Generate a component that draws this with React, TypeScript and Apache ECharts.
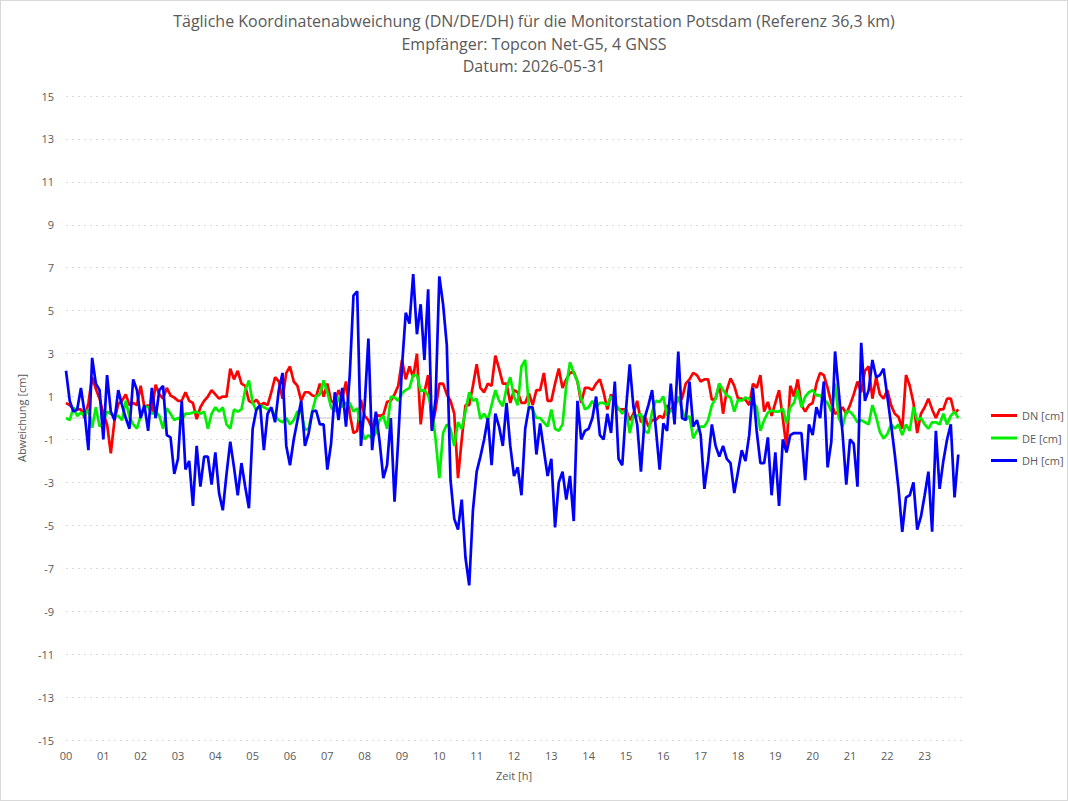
import React, { useEffect, useRef } from "react";
import * as echarts from "echarts";

// time step of the readings: 0.1 h, starting at 00:00
const STEP_H = 0.1;

const xTickLabels = ["00","01","02","03","04","05","06","07","08","09","10","11","12","13","14","15","16","17","18","19","20","21","22","23"];

const dn = [
  0.7,0.6,0.4,0.4,0.4,0.0,0.7,1.9,1.35,0.9,
  0.2,-0.3,-1.65,-0.1,0.65,0.8,1.1,0.6,0.7,0.6,
  1.5,0.5,0.6,0.3,1.55,1.1,0.9,1.4,1.05,0.95,
  0.8,0.8,1.2,0.8,0.7,-0.05,0.5,0.8,1.0,1.3,
  1.1,0.9,1.0,1.0,2.3,1.8,2.2,1.6,1.5,0.8,
  0.7,0.85,0.6,0.7,0.6,1.2,1.9,1.7,0.9,2.1,
  2.4,1.7,1.5,0.8,1.2,1.2,1.05,1.0,1.6,1.0,
  1.6,0.8,0.7,1.3,0.9,1.7,0.2,-0.7,-0.6,0.85,
  0.1,-0.1,-0.5,0.15,0.1,0.15,0.75,0.8,1.1,1.5,
  2.7,1.8,2.4,1.9,3.0,-0.3,1.2,2.0,-0.5,0.4,
  1.6,1.6,1.1,0.8,0.2,-2.8,-1.0,0.6,0.6,1.5,
  2.5,1.4,1.2,1.6,1.5,2.9,2.3,1.6,1.6,0.7,
  1.3,1.2,0.7,0.7,1.15,0.6,1.3,1.3,2.1,0.8,
  0.8,1.6,2.3,1.4,1.8,2.1,2.15,1.7,0.7,1.4,
  1.4,1.3,1.6,1.8,1.2,0.4,1.1,0.7,0.4,0.4,
  0.4,-0.1,0.2,0.8,-0.2,0.1,-0.4,-0.1,-0.1,0.1,
  0.0,0.6,0.3,0.7,0.8,0.9,1.6,1.8,2.1,2.0,
  1.7,1.8,1.8,0.85,0.9,1.6,0.2,1.3,1.85,1.5,
  0.9,0.9,0.85,0.6,1.6,1.4,2.0,0.3,0.75,0.1,
  0.7,1.3,0.0,-1.4,1.5,1.0,1.8,0.6,0.3,0.6,
  0.7,1.6,2.1,2.0,1.4,0.7,0.2,0.3,0.5,0.2,
  0.6,1.1,1.7,1.2,2.2,2.4,0.9,1.9,1.1,0.9,
  1.3,0.6,0.2,0.05,-0.5,2.0,1.5,0.7,-0.7,0.2,
  0.5,0.9,0.4,0.0,0.4,0.4,0.9,0.9,0.2,0.4
];

const de = [
  0.0,-0.1,0.5,0.1,0.25,0.1,0.4,-0.45,0.5,-0.4,
  -0.2,0.3,0.2,0.1,0.1,-0.1,0.8,0.05,-0.3,-0.5,
  0.1,0.55,0.5,0.2,0.3,0.1,-0.5,0.45,0.2,-0.1,
  0.0,-0.1,0.2,0.2,0.25,0.3,0.2,0.3,-0.5,0.2,
  0.5,0.3,0.5,-0.3,-0.5,0.4,0.3,0.4,1.3,1.75,
  0.7,0.35,0.6,0.5,0.4,0.45,0.1,-0.1,-0.2,0.0,
  -0.3,-0.1,0.3,0.3,-0.55,-0.5,0.35,1.0,1.1,1.75,
  1.2,0.5,0.3,1.0,0.5,0.7,0.7,0.3,0.45,-0.45,
  -1.0,-0.8,-0.95,-0.7,-0.1,0.1,-0.5,1.0,0.95,0.8,
  1.15,1.3,1.4,2.0,2.0,1.25,1.3,1.05,0.45,-1.0,
  -2.8,-0.7,-0.3,-0.5,-1.3,-0.2,-0.5,0.3,1.2,0.8,
  0.9,-0.05,0.2,-0.1,0.6,1.3,0.8,0.55,1.4,1.9,
  1.0,0.6,2.4,2.7,0.5,0.4,0.0,0.0,-0.2,-0.4,
  0.4,-0.5,-0.6,-0.3,1.5,2.6,2.1,1.7,0.9,0.4,
  0.5,0.8,0.5,0.7,0.7,0.6,1.0,0.65,0.45,0.2,
  0.4,-0.7,0.1,0.1,0.2,-0.6,-0.7,0.3,0.8,0.75,
  1.0,0.1,0.35,0.4,1.0,0.4,-0.1,0.1,-0.95,-0.6,
  -0.4,-0.4,-0.1,0.6,0.9,1.6,1.3,1.05,0.95,0.3,
  0.85,0.8,0.95,0.9,0.75,0.5,-0.6,-0.1,0.25,0.35,
  0.3,0.3,0.45,-0.25,0.5,0.7,1.3,0.5,1.0,1.2,
  1.3,1.05,1.05,0.85,0.7,0.3,1.6,0.0,-0.4,0.3,
  0.3,0.1,-0.2,-0.1,-0.2,-0.3,0.6,0.05,-0.65,-0.95,
  -0.75,-0.3,-0.5,-0.3,-0.8,-0.3,-0.6,0.5,-0.1,0.0,
  -0.3,-0.5,-0.2,-0.2,-0.3,0.2,-0.3,0.1,0.3,0.0
];

const dh = [
  2.2,0.8,0.3,0.4,1.4,0.2,-1.5,2.8,1.6,1.3,
  -1.0,2.0,0.3,-0.1,1.3,0.6,0.0,-0.5,1.8,1.3,
  0.0,0.6,-0.6,1.4,0.0,1.3,1.5,-0.8,-0.9,-2.6,
  -1.9,0.8,-2.4,-2.0,-4.1,-1.3,-3.2,-1.8,-1.8,-3.1,
  -1.6,-3.5,-4.3,-2.6,-1.1,-2.3,-3.6,-2.1,-3.2,-4.2,
  -0.5,0.4,0.6,-1.5,0.2,0.5,-0.2,1.3,2.1,-1.3,
  -2.2,-1.0,-0.1,0.8,-1.3,-0.7,0.3,0.35,-0.3,-0.3,
  -2.4,-1.2,1.2,-0.1,1.4,-0.4,2.0,5.7,5.9,-1.3,
  0.6,3.7,-1.5,0.3,-1.1,-2.8,-2.2,0.0,-3.9,-1.0,
  2.4,4.9,4.4,6.7,3.9,5.3,2.7,6.0,-0.6,0.9,
  6.6,5.3,3.4,-2.9,-4.7,-5.2,-3.8,-6.5,-7.8,-4.3,
  -2.5,-1.8,-1.0,0.0,-2.2,0.2,-0.4,-1.3,0.7,-1.3,
  -2.7,-2.3,-3.6,-0.5,0.5,0.5,-1.7,-0.25,-1.5,-2.7,
  -1.9,-5.1,-3.0,-2.5,-3.8,-2.7,-4.8,0.8,-1.0,-0.6,
  -0.5,0.0,1.0,-0.8,-1.0,0.2,-0.7,1.7,-1.9,-2.2,
  0.4,2.5,0.5,-0.3,-2.5,0.0,0.6,1.3,-0.5,-2.4,
  -0.25,-0.6,1.6,-0.3,3.1,0.0,-0.1,1.7,-0.4,-0.1,
  -0.8,-3.3,-2.0,-0.3,-1.3,-1.8,-1.3,-1.9,-2.1,-3.5,
  -2.5,-1.5,-2.0,-0.8,1.4,-0.6,-2.1,-2.1,-0.9,-3.6,
  -1.6,-4.1,-1.0,-1.6,-0.8,-0.7,-0.7,-0.7,-2.9,-0.3,
  -0.8,0.5,0.0,1.7,-2.3,-1.1,3.1,1.2,-0.7,-3.1,
  -1.0,-1.2,-3.2,3.5,0.8,1.3,2.7,1.9,2.0,2.3,
  1.0,-0.3,-1.7,-3.3,-5.3,-3.7,-3.6,-3.0,-5.2,-4.6,
  -3.6,-2.5,-5.3,-0.6,-3.3,-2.0,-1.0,-0.3,-3.7,-1.7
];

const seriesNames = ["DN [cm]", "DE [cm]", "DH [cm]"];
const seriesColors = ["#ff0000", "#00ee00", "#0000ff"];

const FONT = "'Open Sans', 'Noto Sans', sans-serif";
const GREY = "#595959";

function toPairs(vals: number[]) {
  return vals.map((v, i) => [Math.round(i * STEP_H * 100) / 100, v]);
}

export default function App() {
  const ref = useRef<HTMLDivElement>(null);
  useEffect(() => {
    if (!ref.current) return;
    const chart = echarts.init(ref.current, undefined, { renderer: "svg" });
    const all = [dn, de, dh];
    chart.setOption({
      animation: false,
      backgroundColor: "#ffffff",
      textStyle: { fontFamily: FONT },
      title: {
        text: "Tägliche Koordinatenabweichung (DN/DE/DH) für die Monitorstation Potsdam (Referenz 36,3 km)\nEmpfänger: Topcon Net-G5, 4 GNSS\nDatum: 2026-05-31",
        left: "center",
        top: 4,
        textStyle: { fontFamily: FONT, fontSize: 16, fontWeight: "normal", color: GREY, lineHeight: 22.5 },
      },
      legend: {
        orient: "vertical",
        left: 985,
        top: 404,
        itemWidth: 26,
        itemHeight: 3,
        itemGap: 11.5,
        icon: "rect",
        data: seriesNames,
        textStyle: { fontFamily: FONT, fontSize: 11, color: GREY },
      },
      grid: { left: 65, right: 105, top: 95, bottom: 60, containLabel: false },
      xAxis: {
        type: "value",
        min: 0,
        max: 24,
        interval: 1,
        name: "Zeit [h]",
        nameLocation: "middle",
        nameGap: 30,
        nameTextStyle: { fontFamily: FONT, fontSize: 11, color: GREY },
        axisLine: { show: false },
        axisTick: { show: false },
        splitLine: { show: false },
        axisLabel: {
          margin: 10,
          fontFamily: FONT,
          fontSize: 11,
          color: GREY,
          formatter: (v: number) => (v >= 0 && v < xTickLabels.length && Number.isInteger(v) ? xTickLabels[v] : ""),
        },
      },
      yAxis: {
        type: "value",
        min: -15,
        max: 15,
        interval: 2,
        name: "Abweichung [cm]",
        nameLocation: "middle",
        nameGap: 33,
        nameTextStyle: { fontFamily: FONT, fontSize: 11, color: GREY },
        axisLine: { show: false },
        axisTick: { show: false },
        axisLabel: { margin: 12, fontFamily: FONT, fontSize: 11, color: GREY },
        splitLine: { show: true, lineStyle: { color: "#d9d9d9", type: [2, 4], width: 1 } },
      },
      series: all.map((vals, k) => ({
        name: seriesNames[k],
        type: "line",
        data: toPairs(vals),
        showSymbol: false,
        symbol: "none",
        color: seriesColors[k],
        lineStyle: { width: 2.7, color: seriesColors[k] },
        z: 2 + k,
        markLine:
          k === 0
            ? {
                silent: true,
                symbol: "none",
                label: { show: false },
                lineStyle: { color: "#d9d9d9", type: "solid", width: 1.5 },
                data: [{ yAxis: 0 }],
                z: 1,
              }
            : undefined,
      })),
    });
    return () => chart.dispose();
  }, []);
  return (
    <div
      ref={ref}
      style={{
        position: "fixed",
        left: 0,
        top: 0,
        width: 1068,
        height: 801,
        boxSizing: "border-box",
        border: "1px solid #d9d9d9",
        background: "#fff",
      }}
    />
  );
}
